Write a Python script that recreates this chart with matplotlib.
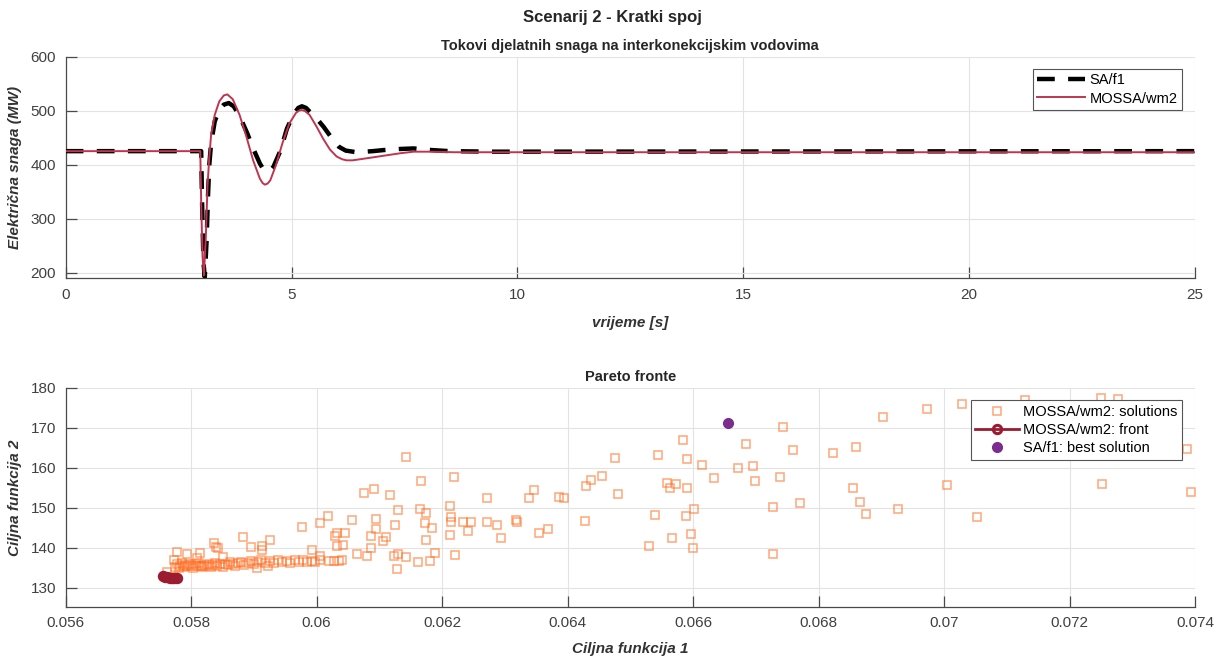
import numpy as np
import matplotlib
matplotlib.use('Agg')
import matplotlib.pyplot as plt
from matplotlib.ticker import FormatStrFormatter

plt.rcParams['font.family'] = ['Liberation Sans', 'DejaVu Sans']

# --- gornji graf: tokovi snaga (očitano sa slike) ---
t_sa = [0, 3.0, 3.02, 3.05, 3.08, 3.12, 3.15, 3.18, 3.22, 3.3, 3.4, 3.5, 3.61, 3.72, 3.85, 4.02, 4.15,
        4.3, 4.38, 4.46, 4.53, 4.6, 4.75, 4.9, 5.05, 5.15, 5.23, 5.32, 5.45, 5.58, 5.71, 5.9, 6.05,
        6.2, 6.44, 6.8, 7.04, 7.4, 7.7, 8.1, 8.5, 9.5, 25]
p_sa = [425, 425, 330, 220, 192, 260, 340, 400, 440, 480, 502, 511, 514, 508, 490, 458, 430,
        402, 391, 387, 389, 396, 425, 467, 494, 505, 508, 505, 494, 483, 470, 448, 433,
        426, 423, 425, 427, 429, 430, 427, 425, 424, 425]

t_mossa = [0, 2.98, 3.0, 3.03, 3.06, 3.1, 3.14, 3.18, 3.22, 3.3, 3.4, 3.5, 3.58, 3.7, 3.85, 4.0,
           4.15, 4.3, 4.36, 4.41, 4.47, 4.53, 4.65, 4.8, 4.95, 5.1, 5.17, 5.23, 5.3, 5.4, 5.55,
           5.7, 5.85, 6.0, 6.12, 6.22, 6.35, 6.6, 7.0, 7.4, 7.7, 8.1, 8.6, 9.5, 25]
p_mossa = [425, 425, 330, 230, 195, 260, 360, 415, 455, 492, 517, 528, 530, 521, 492, 452,
           408, 374, 366, 363, 365, 371, 398, 440, 476, 496, 500, 501, 499, 492, 471,
           448, 428, 415, 410, 408, 408, 411, 416, 421, 424, 424, 423, 423, 423]

# --- donji graf: Pareto fronte ---
sol_f1 = [0.05775, 0.05778, 0.05780, 0.05783, 0.05786, 0.05788, 0.05791, 0.05794, 0.05797, 0.05800,
          0.05803, 0.05806, 0.05809, 0.05812, 0.05815, 0.05818, 0.05821, 0.05825, 0.05828, 0.05831,
          0.05835, 0.05838, 0.05842, 0.05846, 0.05850, 0.05854, 0.05858, 0.05862, 0.05866, 0.05870,
          0.05875, 0.05880, 0.05885, 0.05890, 0.05895, 0.05900, 0.05906, 0.05912, 0.05918, 0.05925,
          0.05932, 0.05938, 0.05945, 0.05952, 0.05958, 0.05965, 0.05972, 0.05978, 0.05985, 0.05992,
          0.05998, 0.06005, 0.06019, 0.06027, 0.06035, 0.06040,
          0.05905, 0.05923, 0.05762, 0.05772,
          0.05777, 0.05794, 0.05814, 0.05810, 0.05772, 0.05836, 0.05839, 0.05843, 0.05850,
          0.05883, 0.05895, 0.05913, 0.05913, 0.05925, 0.05977, 0.05992, 0.06005, 0.06006,
          0.06018, 0.06030, 0.06033, 0.06042, 0.06033, 0.06045, 0.06056, 0.06064, 0.06080,
          0.06075, 0.06092, 0.06086, 0.06087, 0.06094, 0.06094, 0.06106, 0.06111, 0.06117,
          0.06123, 0.06125, 0.06128, 0.06130, 0.06130, 0.06142, 0.06143, 0.06162, 0.06164,
          0.06167, 0.06172, 0.06175, 0.06175, 0.06181, 0.06184, 0.06189, 0.06212, 0.06214,
          0.06214, 0.06212, 0.06219, 0.06220, 0.06234, 0.06241, 0.06246, 0.06271, 0.06272,
          0.06288, 0.06294, 0.06317, 0.06320, 0.06339, 0.06347, 0.06355, 0.06368, 0.06387,
          0.06395, 0.06428, 0.06429, 0.06438, 0.06455, 0.06476, 0.06480, 0.06529, 0.06540,
          0.06544, 0.06558, 0.06563, 0.06566, 0.06573, 0.06584, 0.06589, 0.06591, 0.06591,
          0.06597, 0.06600, 0.06601, 0.06614, 0.06634, 0.06672, 0.06685, 0.06695, 0.06698,
          0.06727, 0.06728, 0.06739, 0.06744, 0.06759, 0.06771, 0.06823, 0.06855, 0.06859,
          0.06866, 0.06875, 0.06902, 0.06927, 0.06973, 0.07004, 0.07029, 0.07052, 0.07129,
          0.07250, 0.07251, 0.07277, 0.07388, 0.07394]
sol_f2 = [135.3, 136.0, 135.0, 135.6, 136.3, 135.2, 135.8, 135.4, 136.1, 135.5,
          135.1, 135.9, 135.4, 136.2, 135.6, 135.2, 135.8, 135.5, 136.0, 135.3,
          135.7, 136.3, 135.5, 135.9, 135.2, 136.1, 135.7, 136.4, 135.9, 135.5,
          136.2, 136.6, 135.8, 136.3, 136.8, 136.1, 136.5, 137.0, 136.3, 136.7,
          136.2, 136.9, 136.4, 136.8, 136.3, 137.0, 136.5, 136.9, 136.4, 136.8,
          136.6, 136.9, 136.8, 136.8, 136.8, 136.9,
          134.9, 135.5, 134.0, 132.7,
          138.9, 138.5, 138.8, 137.4, 137.0, 141.2, 140.3, 139.9, 137.8,
          142.7, 140.3, 140.5, 139.5, 142.0, 145.2, 139.5, 138.0, 146.2,
          148.0, 143.0, 140.4, 140.7, 143.7, 143.7, 146.9, 138.5, 138.0,
          153.8, 154.7, 139.9, 143.0, 147.2, 144.7, 141.8, 142.8, 153.2,
          138.0, 145.8, 134.8, 149.5, 138.4, 162.7, 137.8, 136.6, 149.7,
          156.8, 146.3, 148.7, 141.9, 136.8, 145.1, 138.8, 150.6, 147.7,
          146.4, 143.2, 157.7, 138.2, 146.4, 144.2, 146.4, 152.6, 146.4,
          145.8, 142.6, 146.9, 146.4, 152.6, 154.4, 143.7, 144.8, 152.8,
          152.6, 146.7, 155.5, 156.9, 158.0, 162.4, 153.5, 140.5, 148.3,
          163.2, 156.3, 155.1, 142.6, 156.0, 166.9, 148.1, 162.3, 154.9,
          143.4, 140.1, 149.7, 160.7, 157.6, 160.1, 166.1, 160.6, 156.8,
          150.2, 138.4, 157.8, 170.3, 164.4, 151.2, 163.8, 155.1, 165.2,
          151.4, 148.5, 172.7, 149.7, 174.7, 155.8, 176.1, 147.7, 177.0,
          177.6, 156.0, 177.2, 164.7, 154.0]

front_f1 = [0.05755, 0.05758, 0.05762, 0.05766, 0.05770, 0.05773, 0.05777]
front_f2 = [132.9, 132.8, 132.7, 132.6, 132.55, 132.5, 132.45]

best_f1 = [0.06655]
best_f2 = [171.2]

c_sa = 'black'
c_mossa = '#bf3550'
c_sol = '#ff6a1f'
c_front = '#9b1b30'
c_best = '#7b2d8e'
c_axis = '#4a4a4a'

fig = plt.figure(figsize=(12.25, 6.63), dpi=100)
ax1 = fig.add_axes([0.0536, 0.5802, 0.9219, 0.3345])
ax2 = fig.add_axes([0.0536, 0.0849, 0.9219, 0.3299])

fig.text(0.5, 0.973, 'Scenarij 2 - Kratki spoj', ha='center', va='center',
         fontsize=12, fontweight='bold', color='#262626')

ax1.plot(t_sa, p_sa, color=c_sa, lw=3.2, dashes=(4, 3), label='SA/f1', zorder=3)
ax1.plot(t_mossa, p_mossa, color=c_mossa, lw=1.4, label='MOSSA/wm2', zorder=4)
ax1.set_xlim(0, 25)
ax1.set_ylim(189.7, 600)
ax1.set_xticks(np.arange(0, 26, 5))
ax1.set_yticks(np.arange(200, 601, 100))
ax1.set_title('Tokovi djelatnih snaga na interkonekcijskim vodovima', fontsize=10.5,
              fontweight='bold', color='#262626', pad=5)
ax1.set_xlabel('vrijeme [s]', fontsize=11, fontweight='bold', style='italic', color='#333333', labelpad=10)
ax1.set_ylabel('Električna snaga (MW)', fontsize=11, fontweight='bold', style='italic', color='#333333', labelpad=6)
leg1 = ax1.legend(loc='upper right', fontsize=10.5, fancybox=False, edgecolor='#555555',
                  framealpha=1, bbox_to_anchor=(0.9885, 0.945), borderaxespad=0,
                  handlelength=3.3, handletextpad=0.3, borderpad=0.3, labelspacing=0.3)
leg1.get_frame().set_linewidth(0.8)

ax2.plot(sol_f1, sol_f2, linestyle='none', marker='s', ms=5.5, mfc='none', mec=c_sol,
         mew=1.1, alpha=0.6, label='MOSSA/wm2: solutions', zorder=3)
ax2.plot(front_f1, front_f2, '-o', color=c_front, lw=2, ms=6, mfc='none', mew=2.2,
         label='MOSSA/wm2: front', zorder=4)
ax2.plot(best_f1, best_f2, linestyle='none', marker='o', ms=7, color=c_best,
         label='SA/f1: best solution', zorder=5)
ax2.set_xlim(0.056, 0.074)
ax2.set_ylim(125.3, 180)
ax2.set_xticks(np.arange(0.056, 0.07401, 0.002))
ax2.set_yticks(np.arange(130, 181, 10))
ax2.xaxis.set_major_formatter(FormatStrFormatter('%g'))
ax2.set_title('Pareto fronte', fontsize=10.5, fontweight='bold', color='#262626', pad=5)
ax2.set_xlabel('Ciljna funkcija 1', fontsize=11, fontweight='bold', style='italic', color='#333333', labelpad=8)
ax2.set_ylabel('Ciljna funkcija 2', fontsize=11, fontweight='bold', style='italic', color='#333333', labelpad=6)
leg2 = ax2.legend(loc='upper right', fontsize=10.5, fancybox=False, edgecolor='#555555',
                  framealpha=1, bbox_to_anchor=(0.9885, 0.944), borderaxespad=0,
                  handlelength=3, handletextpad=0.3, borderpad=0.3, labelspacing=0.3)
leg2.get_frame().set_linewidth(0.8)

for ax in (ax1, ax2):
    ax.grid(True, color='#e3e3e3', lw=0.8)
    ax.set_axisbelow(True)
    for s in ('top', 'right'):
        ax.spines[s].set_visible(False)
    for s in ('left', 'bottom'):
        ax.spines[s].set_color(c_axis)
        ax.spines[s].set_linewidth(0.9)
    ax.tick_params(direction='in', length=8, width=0.9, color=c_axis, labelcolor='#404040',
                   labelsize=11, pad=7)

fig.savefig('out.png', dpi=100)
